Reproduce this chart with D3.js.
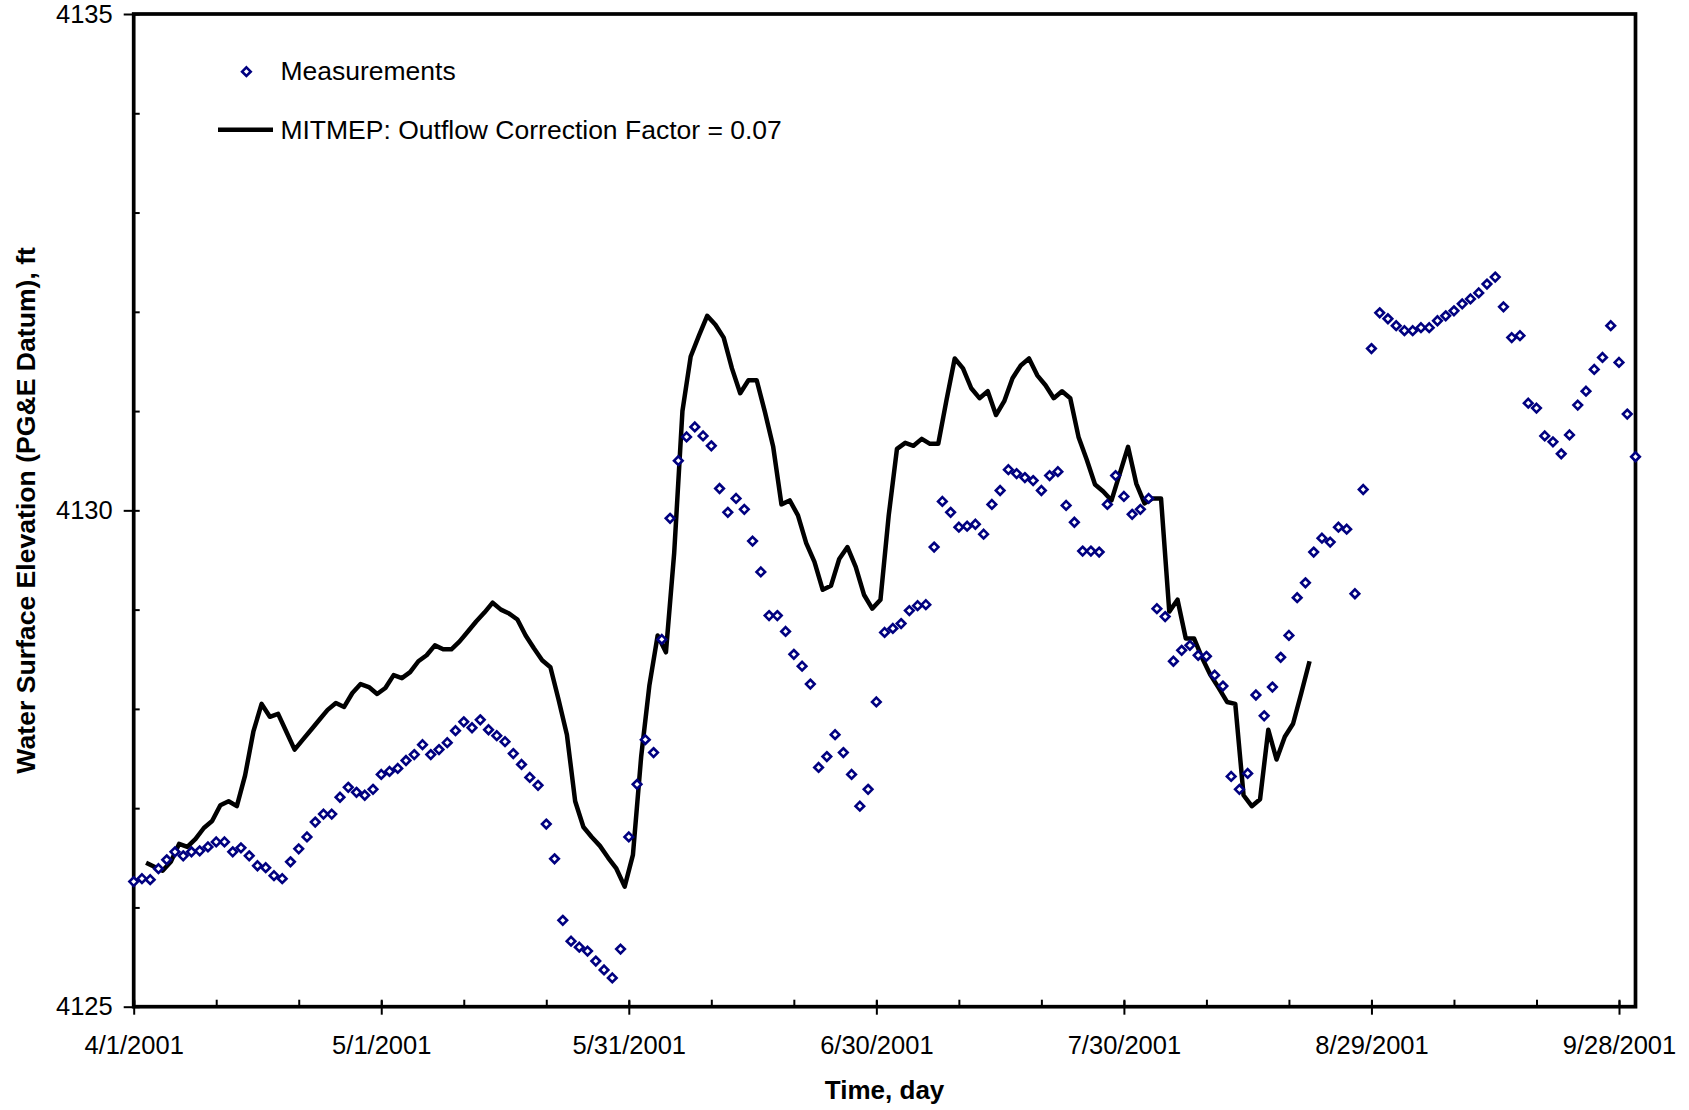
<!DOCTYPE html>
<html>
<head>
<meta charset="utf-8">
<script src="https://cdn.jsdelivr.net/npm/d3@7"></script>
<style>
  html, body { margin: 0; padding: 0; background: #fff; }
  svg { display: block; font-family: "Liberation Sans", Arial, sans-serif; }
</style>
</head>
<body>
<script>
// ---------------- data ----------------
const startDate = "2001-04-01";          // first measurement day
const endDate = "2001-09-30";            // end of the time axis
const modelStartOffsetDays = 1.5;        // first model output (days after start)

// Daily measured water surface elevation (ft), 4/1/2001 .. 9/30/2001
const measurements = [
  4126.26, 4126.29, 4126.28, 4126.39, 4126.48, 4126.56, 4126.52, 4126.56, 4126.57, 4126.61,
  4126.66, 4126.66, 4126.56, 4126.60, 4126.52, 4126.42, 4126.40, 4126.32, 4126.29, 4126.46,
  4126.59, 4126.71, 4126.86, 4126.94, 4126.94, 4127.11, 4127.21, 4127.16, 4127.13, 4127.19,
  4127.34, 4127.37, 4127.40, 4127.48, 4127.54, 4127.64, 4127.54, 4127.59, 4127.66, 4127.78,
  4127.87, 4127.81, 4127.89, 4127.79, 4127.73, 4127.67, 4127.55, 4127.44, 4127.31, 4127.23,
  4126.84, 4126.49, 4125.87, 4125.66, 4125.60, 4125.56, 4125.46, 4125.37, 4125.29, 4125.58,
  4126.71, 4127.24, 4127.69, 4127.56, 4128.70, 4129.92, 4130.50, 4130.74, 4130.84, 4130.75,
  4130.65, 4130.22, 4129.98, 4130.12, 4130.01, 4129.69, 4129.38, 4128.94, 4128.94, 4128.78,
  4128.55, 4128.43, 4128.25, 4127.41, 4127.52, 4127.74, 4127.56, 4127.34, 4127.02, 4127.19,
  4128.07, 4128.77, 4128.81, 4128.86, 4128.99, 4129.04, 4129.05, 4129.63, 4130.09, 4129.98,
  4129.83, 4129.84, 4129.86, 4129.76, 4130.06, 4130.20, 4130.41, 4130.37, 4130.33, 4130.30,
  4130.20, 4130.35, 4130.39, 4130.05, 4129.88, 4129.59, 4129.59, 4129.58, 4130.06, 4130.35,
  4130.14, 4129.96, 4130.01, 4130.12, 4129.01, 4128.93, 4128.48, 4128.59, 4128.64, 4128.54,
  4128.53, 4128.34, 4128.23, 4127.32, 4127.19, 4127.35, 4128.14, 4127.93, 4128.22, 4128.52,
  4128.74, 4129.12, 4129.27, 4129.58, 4129.72, 4129.68, 4129.83, 4129.81, 4129.16, 4130.21,
  4131.63, 4131.99, 4131.93, 4131.86, 4131.81, 4131.81, 4131.84, 4131.84, 4131.91, 4131.96,
  4132.01, 4132.08, 4132.13, 4132.19, 4132.28, 4132.35, 4132.05, 4131.74, 4131.76, 4131.08,
  4131.03, 4130.75, 4130.69, 4130.57, 4130.76, 4131.06, 4131.20, 4131.42, 4131.54, 4131.86,
  4131.49, 4130.97, 4130.54
];

// MITMEP model output (ft), daily from 4/2/2001 12:00
const model = [
  4126.45, 4126.41, 4126.37, 4126.46, 4126.64, 4126.61, 4126.69, 4126.80, 4126.87, 4127.03,
  4127.07, 4127.02, 4127.33, 4127.77, 4128.05, 4127.92, 4127.95, 4127.77, 4127.59, 4127.69,
  4127.79, 4127.89, 4127.99, 4128.06, 4128.02, 4128.16, 4128.25, 4128.22, 4128.15, 4128.21,
  4128.34, 4128.31, 4128.37, 4128.48, 4128.54, 4128.64, 4128.60, 4128.60, 4128.68, 4128.78,
  4128.88, 4128.97, 4129.07, 4129.00, 4128.96, 4128.90, 4128.74, 4128.61, 4128.49, 4128.42,
  4128.09, 4127.74, 4127.07, 4126.81, 4126.71, 4126.62, 4126.50, 4126.39, 4126.21, 4126.53,
  4127.52, 4128.24, 4128.74, 4128.57, 4129.57, 4131.00, 4131.55, 4131.76, 4131.96, 4131.87,
  4131.74, 4131.43, 4131.18, 4131.31, 4131.31, 4130.99, 4130.64, 4130.06, 4130.10, 4129.95,
  4129.67, 4129.48, 4129.20, 4129.24, 4129.51, 4129.63, 4129.43, 4129.15, 4129.01, 4129.10,
  4129.95, 4130.62, 4130.68, 4130.65, 4130.72, 4130.67, 4130.67, 4131.11, 4131.53, 4131.43,
  4131.23, 4131.13, 4131.20, 4130.96, 4131.10, 4131.33, 4131.46, 4131.53, 4131.36, 4131.26,
  4131.13, 4131.20, 4131.13, 4130.74, 4130.51, 4130.26, 4130.19, 4130.10, 4130.37, 4130.64,
  4130.27, 4130.07, 4130.12, 4130.12, 4128.98, 4129.10, 4128.71, 4128.71, 4128.51, 4128.34,
  4128.21, 4128.07, 4128.05, 4127.13, 4127.02, 4127.09, 4127.79, 4127.49, 4127.72, 4127.85,
  4128.16, 4128.48
];

const xTickLabels = ["4/1/2001", "5/1/2001", "5/31/2001", "6/30/2001", "7/30/2001", "8/29/2001", "9/28/2001"];
const xMajorStepDays = 30;
const xMinorStepDays = 10;
const yDomain = [4125, 4135];
const yTickLabels = [4125, 4130, 4135];
const yMinorStep = 1;

const legendLabels = ["Measurements", "MITMEP: Outflow Correction Factor = 0.07"];
const xTitle = "Time, day";
const yTitle = "Water Surface Elevation (PG&E Datum), ft";

// ---------------- layout ----------------
const W = 1689, H = 1110;
const plotL = 133.7, plotR = 1635.5, plotT = 14, plotB = 1006.7;
const navy = "#000080";

const parseDate = d3.utcParse("%Y-%m-%d");
const t0 = parseDate(startDate), t1 = parseDate(endDate);
const dayMs = 864e5;

const measData = measurements.map((v, i) => ({ t: new Date(+t0 + i * dayMs), v }));
const modelData = model.map((v, i) => ({ t: new Date(+t0 + (modelStartOffsetDays + i) * dayMs), v }));

const x = d3.scaleUtc().domain([t0, t1]).range([plotL, plotR]);
const y = d3.scaleLinear().domain(yDomain).range([plotB, plotT]);

const majorDates = xTickLabels.map((s, i) => new Date(+t0 + i * xMajorStepDays * dayMs));
const minorDates = d3.range(0, (t1 - t0) / dayMs + 0.01, xMinorStepDays).map(d => new Date(+t0 + d * dayMs));
const yMinor = d3.range(yDomain[0], yDomain[1] + 0.001, yMinorStep);

const svg = d3.select("body").append("svg").attr("width", W).attr("height", H);
svg.append("rect").attr("width", W).attr("height", H).attr("fill", "#fff");

// minor / inside ticks
const gxIn = svg.append("g").attr("transform", `translate(0,${plotB})`)
  .call(d3.axisBottom(x).tickValues(minorDates).tickSize(-7).tickFormat(""));
const gyIn = svg.append("g").attr("transform", `translate(${plotL},0)`)
  .call(d3.axisLeft(y).tickValues(yMinor).tickSize(-6).tickFormat(""));
// major outside ticks with labels
const gx = svg.append("g").attr("transform", `translate(0,${plotB})`)
  .call(d3.axisBottom(x).tickValues(majorDates).tickSize(8).tickPadding(21)
    .tickFormat((d, i) => xTickLabels[i]));
const gy = svg.append("g").attr("transform", `translate(${plotL},0)`)
  .call(d3.axisLeft(y).tickValues(yTickLabels).tickSize(10).tickPadding(11).tickFormat(d3.format("d")));

[gxIn, gyIn, gx, gy].forEach(g => {
  g.select(".domain").remove();
  g.selectAll(".tick line").attr("stroke", "#000").attr("stroke-width", 2);
});
[gx, gy].forEach(g => g.selectAll(".tick text").attr("font-size", 25.5).attr("fill", "#000")
  .attr("font-family", "Liberation Sans, Arial, sans-serif"));
// major x ticks also go slightly inside
gx.selectAll(".tick line").attr("y1", -6);

// plot frame
svg.append("rect").attr("x", plotL).attr("y", plotT)
  .attr("width", plotR - plotL).attr("height", plotB - plotT)
  .attr("fill", "none").attr("stroke", "#000").attr("stroke-width", 3.7);

// model line
svg.append("path").datum(modelData)
  .attr("fill", "none").attr("stroke", "#000").attr("stroke-width", 4.5)
  .attr("stroke-linejoin", "round").attr("stroke-linecap", "butt")
  .attr("d", d3.line().x(d => x(d.t)).y(d => y(d.v)));

// measurement markers
const diamond = r => `M0,${-r}L${r},0L0,${r}L${-r},0Z`;
const markerR = 4.3, markerW = 2.6;
svg.append("g").selectAll("path").data(measData).join("path")
  .attr("transform", d => `translate(${x(d.t)},${y(d.v)})`)
  .attr("d", diamond(markerR))
  .attr("fill", "#fff").attr("stroke", navy).attr("stroke-width", markerW);

// legend
const lg = svg.append("g");
lg.append("path").attr("transform", "translate(246.4,71.7)").attr("d", diamond(markerR))
  .attr("fill", "#fff").attr("stroke", navy).attr("stroke-width", markerW);
lg.append("text").attr("x", 280.4).attr("y", 79.8).attr("font-size", 26.5).text(legendLabels[0]);
lg.append("line").attr("x1", 218).attr("x2", 273).attr("y1", 129.8).attr("y2", 129.8)
  .attr("stroke", "#000").attr("stroke-width", 4.5);
lg.append("text").attr("x", 280.4).attr("y", 139.3).attr("font-size", 26.5).text(legendLabels[1]);

// axis titles
svg.append("text").attr("x", (plotL + plotR) / 2).attr("y", 1099.3)
  .attr("text-anchor", "middle").attr("font-size", 26).attr("font-weight", "bold").text(xTitle);
svg.append("text").attr("transform", `translate(34.5,${(plotT + plotB) / 2}) rotate(-90)`)
  .attr("text-anchor", "middle").attr("font-size", 26.6).attr("font-weight", "bold").text(yTitle);
</script>
</body>
</html>
